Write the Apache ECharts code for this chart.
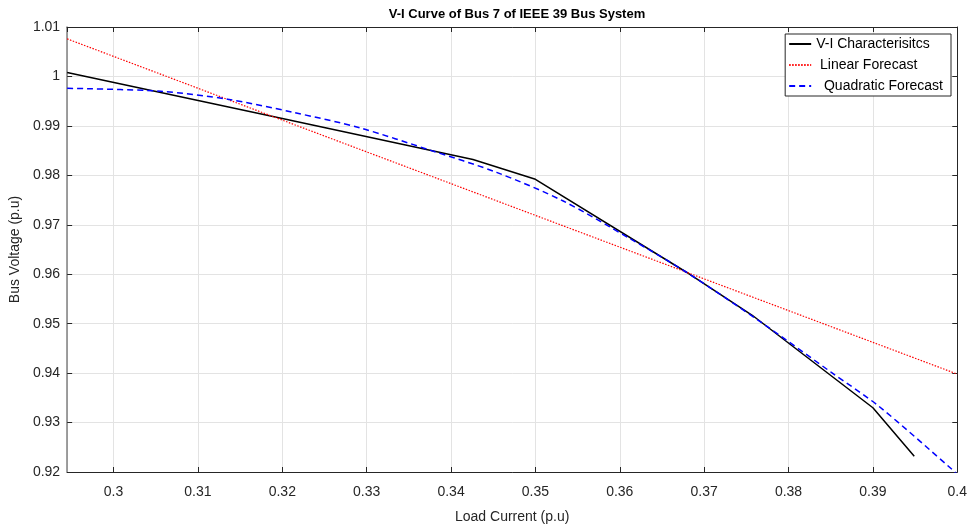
<!DOCTYPE html>
<html>
<head>
<meta charset="utf-8">
<script src="https://cdn.jsdelivr.net/npm/echarts@6/dist/echarts.min.js"></script>
<style>
  html, body { margin: 0; padding: 0; background: #fff; }
  #chart { width: 970px; height: 529px; }
</style>
</head>
<body>
<div id="chart"></div>
<script>
// 读图得到的数据
var vi = [
  [0.2945, 1.0008], [0.32, 0.9915], [0.3426, 0.9832], [0.35, 0.9792],
  [0.3679, 0.9604], [0.3757, 0.9517], [0.39, 0.9330], [0.3949, 0.9232]
]
var linear = [[0.2945, 1.0076], [0.3257, 0.9875], [0.4, 0.9398]]
var quadratic = [
  [0.2945, 0.9976], [0.3056, 0.9970], [0.3135, 0.9954], [0.3214, 0.9927],
  [0.3292, 0.9896], [0.3375, 0.9851], [0.3454, 0.9806],
  [0.3533, 0.9748], [0.3612, 0.9672], [0.3679, 0.9604], [0.3769, 0.9501],
  [0.3852, 0.9400], [0.3907, 0.9333], [0.3994, 0.9205], [0.4, 0.9195]
]
var names = ['V-I Characterisitcs', ' Linear Forecast', '  Quadratic Forecast']

var font = 'Liberation Sans, Arial, sans-serif'
var axisColor = '#262626'

var chart = echarts.init(document.getElementById('chart'))
chart.setOption({
  animation: false,
  textStyle: { fontFamily: font },
  title: {
    text: 'V-I Curve of Bus 7 of IEEE 39 Bus System',
    left: 512, top: 3, textAlign: 'center',
    textStyle: { fontSize: 13, fontWeight: 'bold', color: '#000', fontFamily: font }
  },
  legend: {
    orient: 'vertical',
    right: 19, top: 34,
    itemWidth: 22, itemHeight: 14, itemGap: 7,
    padding: [3, 8, 3, 3],
    borderColor: axisColor, borderWidth: 1,
    backgroundColor: '#fff',
    itemStyle: { opacity: 0 },
    textStyle: { fontSize: 14, color: '#000', fontFamily: font },
    data: names
  },
  grid: { left: 66, right: 11, top: 27, bottom: 50 },
  xAxis: [
    {
      type: 'value', min: 0.2945, max: 0.4, splitNumber: 10,
      name: 'Load Current (p.u)', nameLocation: 'middle', nameGap: 38,
      nameTextStyle: { fontSize: 14, color: axisColor },
      axisLine: { lineStyle: { color: axisColor, width: 1 } },
      axisTick: { inside: true, length: 5, lineStyle: { color: axisColor } },
      axisLabel: { fontSize: 14, color: axisColor, margin: 13, showMinLabel: false },
      splitLine: { show: true, lineStyle: { color: '#e3e3e3' } }
    },
    {
      type: 'value', min: 0.2945, max: 0.4, splitNumber: 10, position: 'top',
      axisLine: { show: true, lineStyle: { color: axisColor, width: 1 } },
      axisTick: { inside: true, length: 5, lineStyle: { color: axisColor } },
      axisLabel: { show: false },
      splitLine: { show: false }
    }
  ],
  yAxis: [
    {
      type: 'value', min: 0.92, max: 1.01, interval: 0.01,
      name: 'Bus Voltage (p.u)', nameLocation: 'middle', nameGap: 44,
      nameTextStyle: { fontSize: 14, color: axisColor },
      axisLine: { show: true, lineStyle: { color: '#808080', width: 1.5 } },
      axisTick: { show: true, inside: true, length: 5, lineStyle: { color: axisColor } },
      axisLabel: { fontSize: 14, color: axisColor, margin: 7 },
      splitLine: { show: true, lineStyle: { color: '#e3e3e3' } }
    },
    {
      type: 'value', min: 0.92, max: 1.01, interval: 0.01, position: 'right',
      axisLine: { show: true, lineStyle: { color: axisColor, width: 1 } },
      axisTick: { show: true, inside: true, length: 5, lineStyle: { color: axisColor } },
      axisLabel: { show: false },
      splitLine: { show: false }
    }
  ],
  series: [
    {
      name: names[0], type: 'line', data: vi, symbol: 'none',
      lineStyle: { color: '#000', width: 1.5 }, itemStyle: { color: '#000' }
    },
    {
      name: names[1], type: 'line', data: linear, symbol: 'none',
      lineStyle: { color: '#ff0000', width: 1.2, type: [1.5, 1.5] }, itemStyle: { color: '#ff0000' }
    },
    {
      name: names[2], type: 'line', data: quadratic, symbol: 'none', smooth: 0.3,
      lineStyle: { color: '#0000ff', width: 1.5, type: [6, 4] }, itemStyle: { color: '#0000ff' }
    }
  ]
})
</script>
</body>
</html>
